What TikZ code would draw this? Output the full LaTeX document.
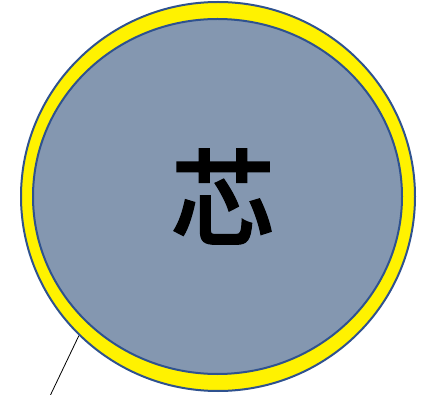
\documentclass[tikz,border=0pt]{standalone}
\usepackage{fontspec}
\IfFontExistsTF{Noto Sans CJK SC Medium}
  {\newfontfamily\cjk[FakeBold=1.2]{Noto Sans CJK SC Medium}}
  {\newfontfamily\cjk[FakeBold=2]{Noto Sans CJK SC}}
\usetikzlibrary{shapes.geometric}

\definecolor{rim}{HTML}{2F528F}
\definecolor{corefill}{HTML}{8497B0}

\begin{document}
\begin{tikzpicture}[x=1pt, y=-1pt,
        ringstyle/.style={ellipse, draw=rim, line width=2pt, fill=yellow,
          minimum width=394pt, minimum height=389pt, inner sep=0pt},
        corestyle/.style={ellipse, draw=rim, line width=2pt, fill=corefill,
          minimum width=369pt, minimum height=355pt, inner sep=0pt}]

      \useasboundingbox (0,0) rectangle (423,395);

      % rings
      \node[ringstyle] (ring) at (218,196.5) {};
      \node[corestyle] (core) at (217.5,196.5) {};
      \node[font=\cjk\fontsize{105}{105}\selectfont, inner sep=0pt]
        (xin) at (223,196.5) {芯};

      % pointer
      \coordinate (tail) at (50,396);
      \draw[line width=0.8pt] (ring.225) -- (tail);
    \end{tikzpicture}
\end{document}
